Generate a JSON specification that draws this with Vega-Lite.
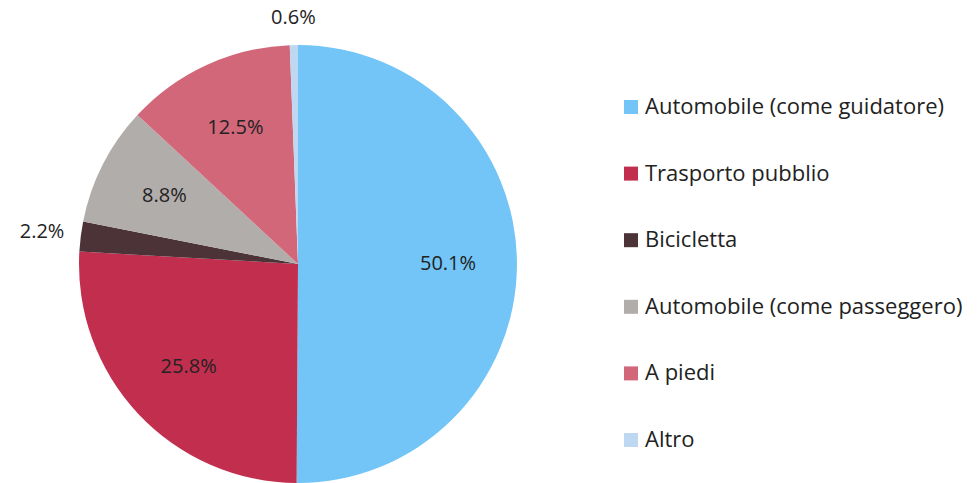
{
  "$schema": "https://vega.github.io/schema/vega-lite/v6.json",
  "autosize": {"type": "none"},
  "width": 438,
  "height": 438,
  "padding": {"left": 79, "top": 45, "right": 460, "bottom": 0},
  "background": "white",
  "config": {"view": {"stroke": null}, "font": "Open Sans"},
  "data": {
    "values": [
      {"ord": 1, "mode": "Automobile (come guidatore)", "value": 50.1, "label": "50.1%", "pos": "in"},
      {"ord": 2, "mode": "Trasporto pubblio", "value": 25.8, "label": "25.8%", "pos": "in"},
      {"ord": 3, "mode": "Bicicletta", "value": 2.2, "label": "2.2%", "pos": "out"},
      {"ord": 4, "mode": "Automobile (come passeggero)", "value": 8.8, "label": "8.8%", "pos": "in"},
      {"ord": 5, "mode": "A piedi", "value": 12.5, "label": "12.5%", "pos": "in"},
      {"ord": 6, "mode": "Altro", "value": 0.6, "label": "0.6%", "pos": "out"}
    ]
  },
  "encoding": {
    "theta": {"field": "value", "type": "quantitative", "stack": true},
    "order": {"field": "ord", "type": "quantitative"}
  },
  "layer": [
    {
      "mark": {"type": "arc", "outerRadius": 219, "stroke": null},
      "encoding": {
        "color": {
          "field": "mode",
          "type": "nominal",
          "sort": ["Automobile (come guidatore)", "Trasporto pubblio", "Bicicletta", "Automobile (come passeggero)", "A piedi", "Altro"],
          "scale": {
            "domain": ["Automobile (come guidatore)", "Trasporto pubblio", "Bicicletta", "Automobile (come passeggero)", "A piedi", "Altro"],
            "range": ["#72C5F6", "#C12E4E", "#4C3338", "#B1ADAB", "#D2677A", "#BDD8F0"]
          },
          "legend": {
            "title": null,
            "orient": "none",
            "legendX": 541,
            "legendY": 51,
            "symbolType": "square",
            "symbolSize": 196,
            "symbolStrokeWidth": 0,
            "labelFontSize": 22,
            "labelColor": "#222222",
            "labelFont": "Open Sans",
            "labelOffset": 3,
            "rowPadding": 44.6,
            "labelLimit": 400
          }
        }
      }
    },
    {
      "mark": {"type": "text", "fontSize": 20, "color": "#222222", "font": "Open Sans"},
      "encoding": {
        "text": {"field": "label"},
        "radius": {"value": {"expr": "datum.pos == 'out' ? (datum.value < 1 ? 246 : 258) : 150"}}
      }
    }
  ]
}
